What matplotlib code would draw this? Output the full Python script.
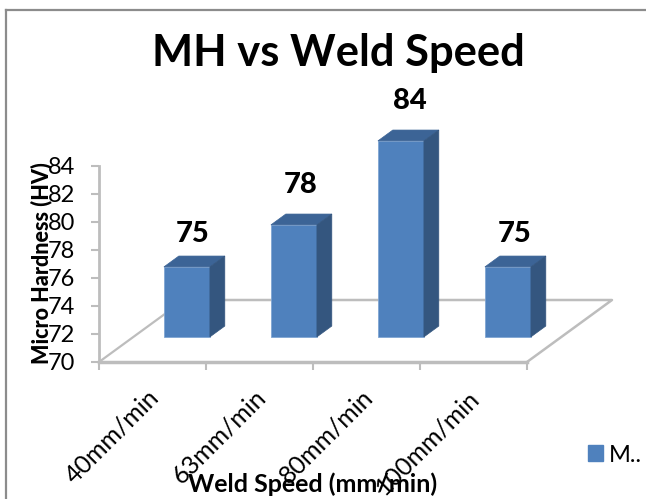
import matplotlib
matplotlib.use('Agg')
import matplotlib.pyplot as plt
from matplotlib.lines import Line2D
from matplotlib.patches import Patch, Polygon
from matplotlib.transforms import ScaledTranslation

categories = ['40mm/min', '63mm/min', '80mm/min', '100mm/min']
hardness = [75, 78, 84, 75]
yticks = [70, 72, 74, 76, 78, 80, 82, 84]

plt.rcParams['font.family'] = ['Lato', 'DejaVu Sans']

W, H = 646, 499
fig = plt.figure(figsize=(W / 100, H / 100), dpi=100)
ax = fig.add_axes([99 / W, (H - 362) / H, 428 / W, 196 / H])
ax.set_xlim(0, 4)
ax.set_ylim(70, 84)

grey = '#bdbdbd'
front = '#4f81bd'
top = '#3c6496'
side = '#34567f'

# fake 3d: how far one unit of depth moves things, in data units
depth_x = 85 / 107
depth_y = 62 / 14


def proj(x, y, d):
    return x + d * depth_x, y + d * depth_y


# floor
floor = [proj(0, 70, 1), proj(4, 70, 1), proj(4, 70, 0)]
ax.plot([proj(0, 70, 0)[0], floor[0][0]], [proj(0, 70, 0)[1], floor[0][1]], color=grey, lw=1.6, clip_on=False, zorder=1)
ax.plot([p[0] for p in floor], [p[1] for p in floor], color=grey, lw=1.8, clip_on=False, zorder=1)
ax.plot([0, 4], [70, 70], color=grey, lw=2.5, clip_on=False, zorder=1)

# bars
bar_w = 46 / 107
d0 = 0.405
d1 = 0.58
label_dx = [-0.09, -0.08, -0.06, -0.08]
label_dy = [1.6, 2.1, 2.1, 1.6]
for i, v in enumerate(hardness):
    x0 = i + 0.5 - bar_w / 2
    x1 = i + 0.5 + bar_w / 2
    base = proj(0, 70, d0)[1]
    ax.bar(i + 0.5 + d0 * depth_x, v - 70, width=bar_w, bottom=base, color=front,
           edgecolor='#7fa5d3', lw=0.6, clip_on=False, zorder=3)
    ax.add_patch(Polygon([proj(x0, v, d0), proj(x1, v, d0), proj(x1, v, d1), proj(x0, v, d1)],
                         closed=True, facecolor=top, edgecolor=top, lw=0.5, clip_on=False, zorder=3))
    ax.add_patch(Polygon([proj(x1, 70, d0), proj(x1, v, d0), proj(x1, v, d1), proj(x1, 70, d1)],
                         closed=True, facecolor=side, edgecolor=side, lw=0.5, clip_on=False, zorder=3))
    lx, ly = proj(i + 0.5, v, d1)
    ax.text(lx + label_dx[i], ly + label_dy[i], str(v), ha='center', va='center', fontsize=21,
            fontweight='black', color='black', zorder=5)

# axes
ax.set_yticks(yticks)
ax.tick_params(axis='y', length=6, width=1.5, color=grey, labelsize=17, pad=11)
ax.set_xticks(range(5))
ax.set_xticklabels([])
ax.tick_params(axis='x', which='major', length=6, width=1.5, color=grey)
ax.set_xticks([i + 0.5 for i in range(4)], minor=True)
ax.set_xticklabels(categories, minor=True, rotation=45, ha='right', rotation_mode='anchor', fontsize=18)
ax.tick_params(axis='x', which='minor', length=0, pad=17)
shift = ScaledTranslation(-6 / 100, 0, fig.dpi_scale_trans)
for lab in ax.get_xticklabels(minor=True):
    lab.set_transform(lab.get_transform() + shift)
for s in ['top', 'right', 'bottom']:
    ax.spines[s].set_visible(False)
ax.spines['left'].set_color(grey)
ax.spines['left'].set_linewidth(2)

fig.text(338.5 / W, 1 - 53 / H, 'MH vs Weld Speed', ha='center', va='center', fontsize=31.3, fontweight='bold')
fig.text(41 / W, 1 - 263 / H, 'Micro Hardness (HV)', ha='center', va='center', rotation=90,
         fontsize=15.5, fontweight='black')
fig.text(313 / W, 1 - 484 / H, 'Weld Speed (mm/min)', ha='center', va='center', fontsize=18, fontweight='bold')

fig.legend(handles=[Patch(color=front, label='M..')], loc='center left', bbox_to_anchor=(571 / W, 1 - 455 / H),
           frameon=False, fontsize=17, handlelength=0.64, handleheight=0.64, handletextpad=0.25,
           borderpad=0.2)

# chart area border
fig.add_artist(Line2D([5.5 / W, 5.5 / W], [0, 1 - 10 / H], color='#8c8c8c', lw=1.6))
fig.add_artist(Line2D([5.5 / W, 1], [1 - 10 / H, 1 - 10 / H], color='#8c8c8c', lw=1.6))

fig.savefig('out.png', dpi=100)
